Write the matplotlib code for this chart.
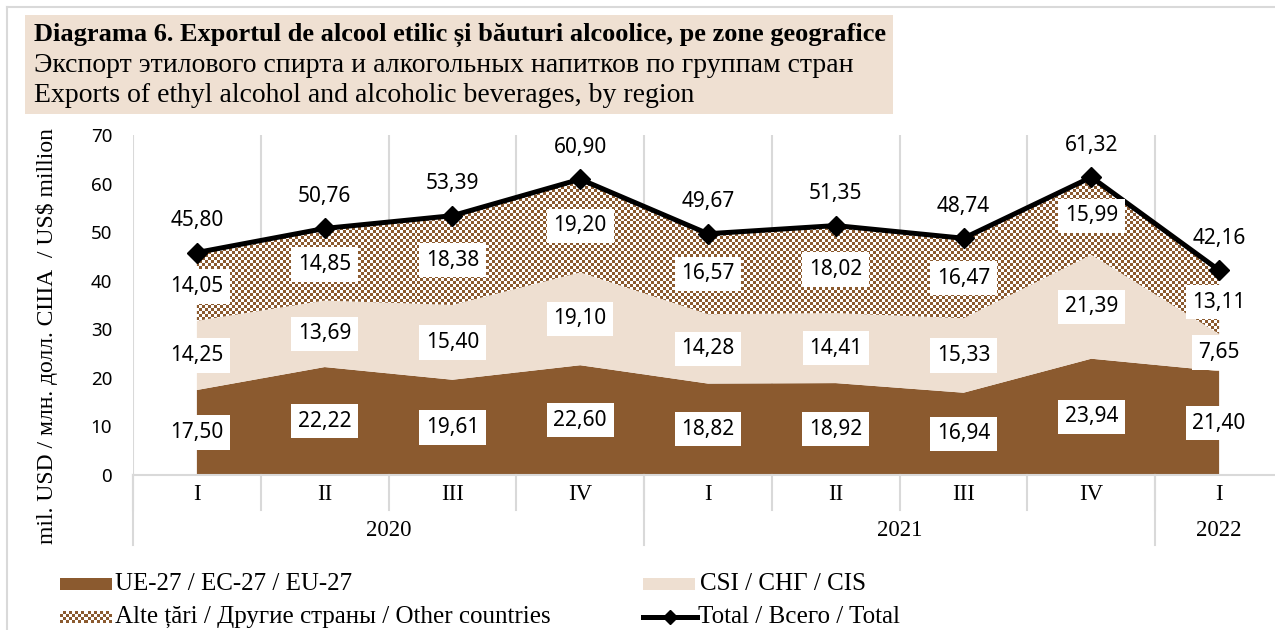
import matplotlib
matplotlib.use("Agg")
import matplotlib.pyplot as plt
import numpy as np
from matplotlib.colors import ListedColormap
from matplotlib.patches import Rectangle, PathPatch
from matplotlib.lines import Line2D
import matplotlib.transforms as mtransforms

# Date: export pe trimestre, mil. USD
trimestre = ["I", "II", "III", "IV", "I", "II", "III", "IV", "I"]
ani = ["2020", "2021", "2022"]
trim_pe_an = [4, 4, 1]

ue = [17.50, 22.22, 19.61, 22.60, 18.82, 18.92, 16.94, 23.94, 21.40]
csi = [14.25, 13.69, 15.40, 19.10, 14.28, 14.41, 15.33, 21.39, 7.65]
alte = [14.05, 14.85, 18.38, 19.20, 16.57, 18.02, 16.47, 15.99, 13.11]
total = [45.80, 50.76, 53.39, 60.90, 49.67, 51.35, 48.74, 61.32, 42.16]

titlu = ["Diagrama 6. Exportul de alcool etilic și băuturi alcoolice, pe zone geografice",
         "Экспорт этилового спирта и алкогольных напитков по группам стран",
         "Exports of ethyl alcohol and alcoholic beverages, by region"]
leg = ["UE-27 / EC-27 / EU-27", "CSI / СНГ / CIS",
       "Alte țări / Другие страны / Other countries", "Total / Всего / Total"]
ylab = "mil. USD / млн. долл. США  / US$ million"

MARO = "#8B5A2F"
BEJ = "#EEDFD1"
GRI = "#D9D9D9"
SERIF = ["Liberation Serif", "DejaVu Serif"]
SANS = ["Noto Sans", "DejaVu Sans"]

W, H = 1275, 630
fig = plt.figure(figsize=(W / 100, H / 100), dpi=100)


def fx(x):
    return x / W


def fy(y):
    return 1 - y / H


def fmt(v):
    return "{:.2f}".format(v).replace(".", ",")


def tabla(rows, cols):
    return np.indices((rows, cols)).sum(axis=0) % 2


cmap_sah = ListedColormap(["white", MARO])

# chenar figura
fig.add_artist(Line2D([fx(7), fx(7)], [fy(7), 0], transform=fig.transFigure, color=GRI, lw=1.5))
fig.add_artist(Line2D([fx(7), 1], [fy(7), fy(7)], transform=fig.transFigure, color=GRI, lw=1.5))

# titlu
fig.add_artist(Rectangle((fx(25), fy(114)), fx(893 - 25), (114 - 15) / H,
                         transform=fig.transFigure, facecolor="#EFE0D2", edgecolor="none"))
fig.text(fx(34), fy(35), titlu[0], fontsize=19, fontweight="bold", family=SERIF, va="center")
fig.text(fx(34), fy(66), titlu[1], fontsize=20, family=SERIF, va="center")
fig.text(fx(34), fy(96), titlu[2], fontsize=20, family=SERIF, va="center")

# axa
ax = fig.add_axes([fx(133), fy(475), (1283 - 133) / W, (475 - 135) / H])
x = np.arange(len(trimestre))
ue_a = np.array(ue)
csi_a = ue_a + np.array(csi)
tot_a = np.array(total)

ax.fill_between(x, 0, ue_a, facecolor=MARO, edgecolor="none", zorder=2)
ax.fill_between(x, ue_a, csi_a, facecolor=BEJ, edgecolor="none", zorder=2)
pc = ax.fill_between(x, csi_a, tot_a, facecolor="none", edgecolor="none", zorder=2)
clip = PathPatch(pc.get_paths()[0], transform=ax.transData, facecolor="none", edgecolor="none")
ax.add_patch(clip)
im = ax.imshow(tabla(114, 384), cmap=cmap_sah, extent=(-0.5, 8.5, 0, 70), origin="lower",
               aspect="auto", interpolation="nearest", zorder=2)
im.set_clip_path(clip)

ax.plot(x, total, color="black", lw=3.6, marker="D", markersize=10, zorder=4)

ax.set_xlim(-0.5, 8.5)
ax.set_ylim(0, 70)
ax.set_yticks(range(0, 71, 10))
ax.tick_params(axis="y", length=0, pad=15, labelsize=13.5)
for t in ax.get_yticklabels():
    t.set_family(SANS)
ax.set_xticks([])
for s in ["top", "right", "left"]:
    ax.spines[s].set_visible(False)
ax.spines["bottom"].set_color(GRI)
ax.spines["bottom"].set_linewidth(1.5)
for b in np.arange(-0.5, 9, 1):
    ax.axvline(b, color=GRI, lw=1.5, zorder=1)

# etichete pe axa x
tr = mtransforms.blended_transform_factory(ax.transData, ax.transAxes)
hax = 475 - 135
for i, t in enumerate(trimestre):
    ax.text(i, -20 / hax, t, transform=tr, ha="center", va="center", fontsize=16.5, family=SERIF)
for b in np.arange(-0.5, 9, 1):
    ax.plot([b, b], [0, -35 / hax], transform=tr, color=GRI, lw=1.5, clip_on=False)
start = 0
for an, n in zip(ani, trim_pe_an):
    ax.plot([start - 0.5, start - 0.5], [0, -70 / hax], transform=tr, color=GRI, lw=1.5, clip_on=False)
    ax.text(start + (n - 1) / 2, -55 / hax, an, transform=tr, ha="center", va="center",
            fontsize=16.5, family=SERIF)
    start += n
ax.plot([start - 0.5, start - 0.5], [0, -70 / hax], transform=tr, color=GRI, lw=1.5, clip_on=False)

fig.text(fx(47), fy(336), ylab, rotation=90, ha="center", va="center", fontsize=17, family=SERIF)

# etichete de date
box = dict(boxstyle="square,pad=0.32", facecolor="white", edgecolor="none")
for i in range(len(x)):
    for v, c in [(ue[i], ue_a[i] / 2), (csi[i], ue_a[i] + csi[i] / 2), (alte[i], csi_a[i] + alte[i] / 2)]:
        ax.text(i, c, fmt(v), ha="center", va="center", fontsize=15, family=SANS,
                bbox=box, zorder=5)
    ax.annotate(fmt(total[i]), (i, total[i]), xytext=(0, 32), textcoords="offset pixels",
                ha="center", va="center", fontsize=15, family=SANS, zorder=5)

# legenda
fig.add_artist(Rectangle((fx(60), fy(590)), fx(52), 12 / H, transform=fig.transFigure,
                         facecolor=MARO, edgecolor="none"))
fig.add_artist(Rectangle((fx(643), fy(590)), fx(52), 12 / H, transform=fig.transFigure,
                         facecolor=BEJ, edgecolor="none"))
lax = fig.add_axes([fx(60), fy(623), fx(52), 12 / H])
lax.imshow(tabla(4, 17), cmap=cmap_sah, aspect="auto", interpolation="nearest")
lax.axis("off")
fig.add_artist(Line2D([fx(643), fx(697)], [fy(617), fy(617)], transform=fig.transFigure,
                      color="black", lw=3.6))
fig.add_artist(Line2D([fx(670)], [fy(617)], transform=fig.transFigure, color="black",
                      marker="D", markersize=7))
fig.text(fx(115), fy(584), leg[0], fontsize=18, family=SERIF, va="center")
fig.text(fx(700), fy(584), leg[1], fontsize=18, family=SERIF, va="center")
fig.text(fx(115), fy(617), leg[2], fontsize=18, family=SERIF, va="center")
fig.text(fx(698), fy(617), leg[3], fontsize=18, family=SERIF, va="center")

fig.savefig("out.png", dpi=100)
